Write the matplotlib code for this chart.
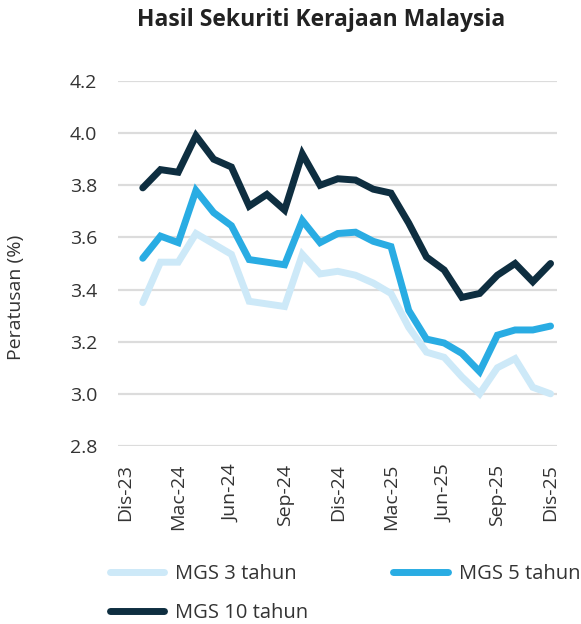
import numpy as np
import matplotlib
matplotlib.use('Agg')
import matplotlib.pyplot as plt

plt.rcParams['font.family'] = ['Open Sans', 'DejaVu Sans']

# Monthly yields, Jan-24 .. Dec-25
months = np.arange(1, 25)
mgs3 = [3.35, 3.505, 3.505, 3.615, 3.575, 3.535, 3.355, 3.345, 3.335, 3.535, 3.46, 3.47,
        3.455, 3.425, 3.385, 3.255, 3.16, 3.14, 3.065, 3.0, 3.10, 3.135, 3.025, 3.0]
mgs5 = [3.52, 3.605, 3.58, 3.78, 3.695, 3.645, 3.515, 3.505, 3.495, 3.665, 3.58, 3.615,
        3.62, 3.585, 3.565, 3.32, 3.21, 3.195, 3.155, 3.085, 3.225, 3.245, 3.245, 3.26]
mgs10 = [3.79, 3.86, 3.85, 3.99, 3.90, 3.87, 3.72, 3.765, 3.705, 3.92, 3.80, 3.825,
         3.82, 3.785, 3.77, 3.655, 3.525, 3.475, 3.37, 3.385, 3.455, 3.50, 3.43, 3.50]

tick_pos = [0, 3, 6, 9, 12, 15, 18, 21, 24]
tick_labels = ['Dis-23', 'Mac-24', 'Jun-24', 'Sep-24', 'Dis-24',
               'Mac-25', 'Jun-25', 'Sep-25', 'Dis-25']
y_ticks = [2.8, 3.0, 3.2, 3.4, 3.6, 3.8, 4.0, 4.2]

c_light = '#cde9f8'
c_mid = '#29ace3'
c_dark = '#0e2e40'
txt = '#333333'

fig = plt.figure(figsize=(5.81, 6.24), dpi=100)
ax = fig.add_axes([0.2036, 0.2853, 0.7556, 0.5849])

line_kw = dict(lw=5, solid_joinstyle='miter', solid_capstyle='round')
h3, = ax.plot(months, mgs3, color=c_light, label='MGS 3 tahun', **line_kw)
h5, = ax.plot(months, mgs5, color=c_mid, label='MGS 5 tahun', **line_kw)
h10, = ax.plot(months, mgs10, color=c_dark, label='MGS 10 tahun', **line_kw)

ax.set_xlim(-0.38, 24.38)
ax.set_ylim(2.8, 4.2)
ax.set_yticks(y_ticks)
ax.set_yticklabels([f'{v:.1f}' for v in y_ticks])
ax.set_xticks(tick_pos)
ax.set_xticklabels(tick_labels, rotation=90)
ax.grid(axis='y', color='#dcdcdc', lw=1.6)
ax.set_axisbelow(True)
for s in ax.spines.values():
    s.set_visible(False)
ax.tick_params(axis='both', length=0, labelsize=14, colors=txt)
ax.tick_params(axis='y', pad=15)
ax.tick_params(axis='x', pad=13)

fig.text(321.5 / 581, 1 - 20 / 624, 'Hasil Sekuriti Kerajaan Malaysia',
         ha='center', va='center', fontsize=16.5, fontweight='bold', color='#222222')
fig.text(16 / 581, 1 - 297 / 624, 'Peratusan (%)', rotation=90,
         ha='center', va='center', fontsize=14, color=txt)

leg = fig.legend(handles=[h3, h10, h5], loc='upper left', ncol=2,
                 bbox_to_anchor=(110 / 581, 1 - 564 / 624), frameon=False,
                 fontsize=14.5, handlelength=2.7, handletextpad=0.55,
                 columnspacing=4.2, labelspacing=0.95, borderpad=0, borderaxespad=0)
for t in leg.get_texts():
    t.set_color(txt)
for l in leg.get_lines():
    l.set_linewidth(5)
    l.set_solid_capstyle('round')

fig.savefig('out.png', dpi=100)
